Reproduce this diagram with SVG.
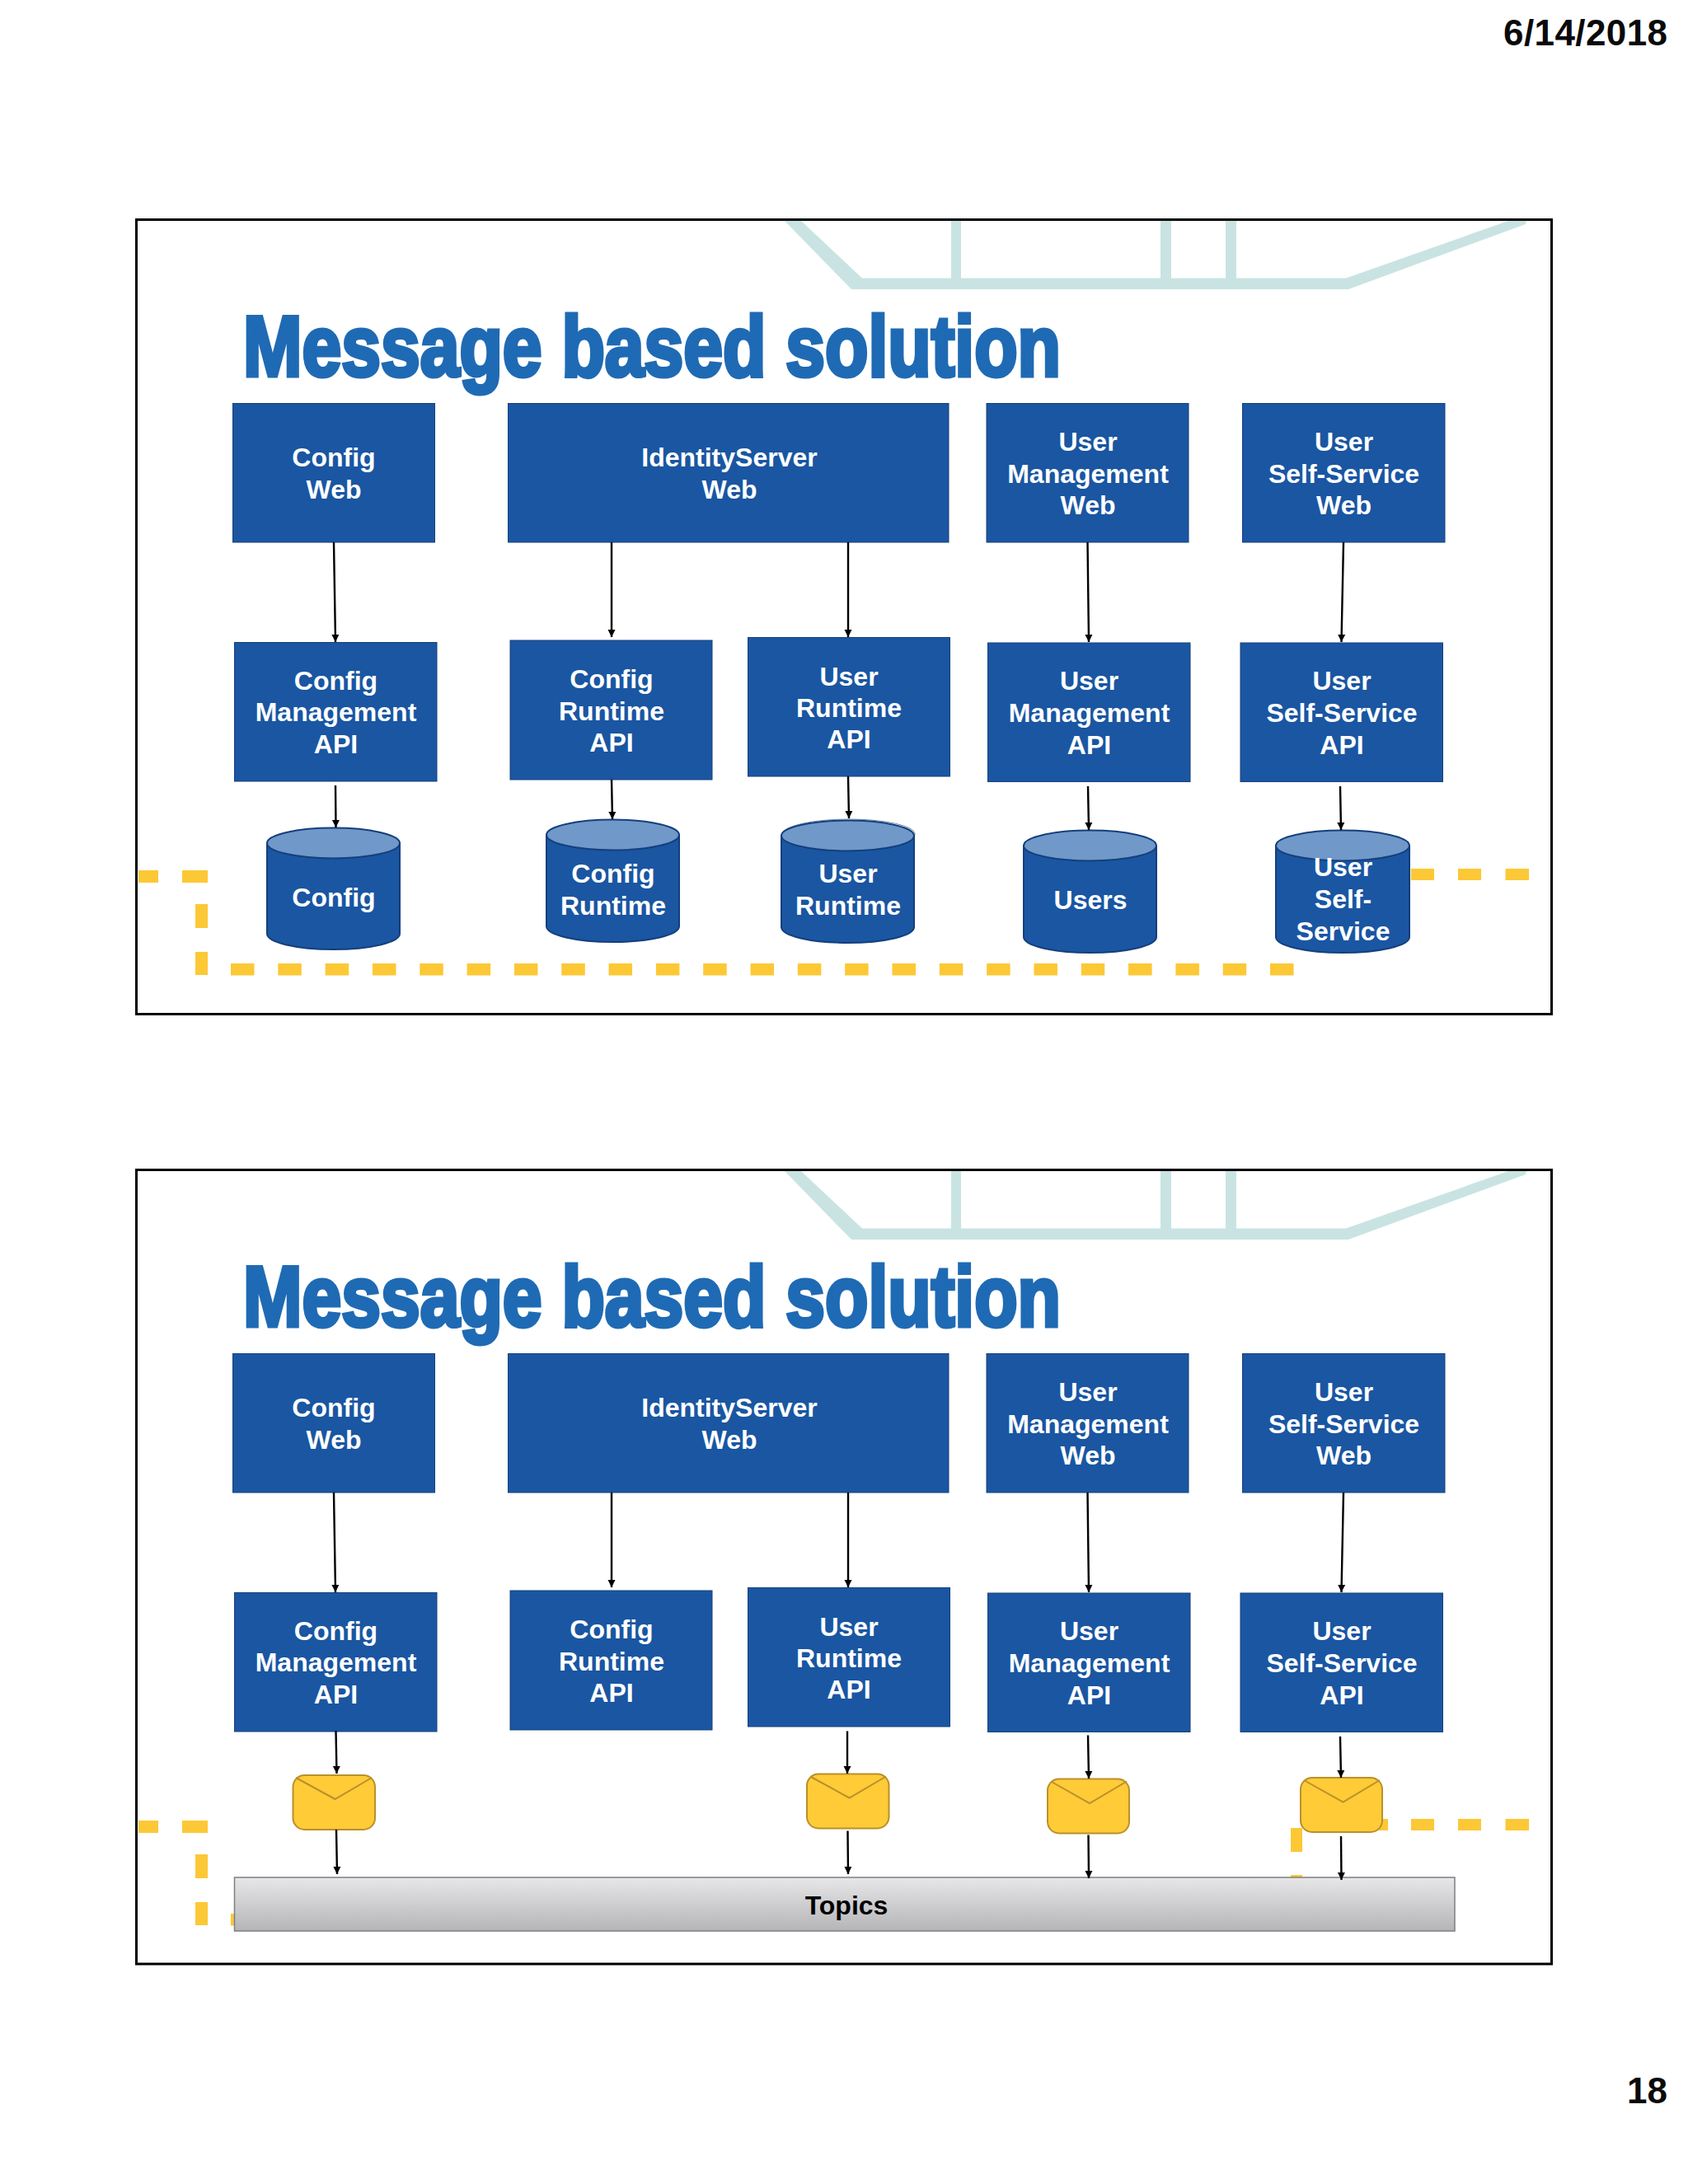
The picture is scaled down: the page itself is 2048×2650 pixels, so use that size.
<svg xmlns="http://www.w3.org/2000/svg" width="2048" height="2650" viewBox="0 0 2048 2650">
<style>
.frame{fill:none;stroke:#000;stroke-width:3}
.teal{fill:#c9e3e3}
.title{font:bold 104px "Liberation Sans",Arial,sans-serif;fill:#1f6ab4;stroke:#1f6ab4;stroke-width:5}
.box{fill:#1a56a2;stroke:#17407a;stroke-width:1}
.cyl{fill:#1a56a2;stroke:#143f7c;stroke-width:2}
.cyltop{fill:#7098c8;stroke:#143f7c;stroke-width:2}
.lbl{font:bold 32px "Liberation Sans",Arial,sans-serif;fill:#fff;text-anchor:middle}
.blk{font:bold 44px "Liberation Sans",Arial,sans-serif;fill:#0a0a0a}
.con{stroke:#000;stroke-width:2.4;fill:none;marker-end:url(#arr)}
.dash{fill:#fcc836}
.env{fill:#ffcb37;stroke:#b9902a;stroke-width:2}
.flap{fill:none;stroke:#b9902a;stroke-width:2}
</style>
<defs>
<marker id="arr" markerUnits="userSpaceOnUse" markerWidth="12" markerHeight="12" refX="9" refY="5" orient="auto">
<path d="M0 0.500L9 5L0 9.500Z" fill="#000"/>
</marker>
<linearGradient id="topicsFill" x1="0" y1="0" x2="0" y2="1">
<stop offset="0" stop-color="#e7e7e9"/><stop offset="0.4" stop-color="#d3d3d5"/><stop offset="1" stop-color="#b5b5b8"/>
</linearGradient>
<path id="tealShape" class="teal" d="M952 268H972L1046 337.500H1154V268H1166V337.500H1408V268H1421V337.500H1487V268H1500V337.500H1633L1830 268H1852L1851 272L1636 351H1033Z"/>
</defs>
<rect width="2048" height="2650" fill="#fff"/>
<text class="blk" x="2023" y="55" text-anchor="end" textLength="199" lengthAdjust="spacing">6/14/2018</text>
<text class="blk" x="2023" y="2552" text-anchor="end">18</text>

<g id="panel1">
<use href="#tealShape"/>
<rect class="frame" x="165.500" y="266.500" width="1717" height="964"/>
<text class="title" x="295" y="456" textLength="992" lengthAdjust="spacingAndGlyphs">Message based solution</text>
<g id="p1-dashes">
<path class="dash" d="M168 1056h24v15h-24zM221 1056h31v15h-31zM237 1097h15v29h-15zM237 1155h15v28h-15zM1712 1054h28v14h-28zM1769 1054h28v14h-28zM1826.500 1054h28.500v14h-28.500zM1655 1054h28v14h-28zM1566 1064h14v29h-14zM1566 1121h14v29h-14z"/>
<path d="M280 1176.300H1569.500" stroke="#fcc836" stroke-width="14.500" stroke-dasharray="28.500 28.820" fill="none"/>
</g>
<g id="p1-config-web"><rect class="box" x="282.500" y="489.500" width="245" height="168.500"/><text class="lbl" x="405" y="566">Config</text><text class="lbl" x="405" y="605">Web</text></g>
<g id="p1-identityserver-web"><rect class="box" x="616.500" y="489.500" width="534.500" height="168.500"/><text class="lbl" x="885" y="566">IdentityServer</text><text class="lbl" x="885" y="605">Web</text></g>
<g id="p1-user-management-web"><rect class="box" x="1197" y="489.500" width="245" height="168.500"/><text class="lbl" x="1320" y="547">User</text><text class="lbl" x="1320" y="586">Management</text><text class="lbl" x="1320" y="624">Web</text></g>
<g id="p1-user-selfservice-web"><rect class="box" x="1507.500" y="489.500" width="245.500" height="168.500"/><text class="lbl" x="1630.500" y="547">User</text><text class="lbl" x="1630.500" y="586">Self-Service</text><text class="lbl" x="1630.500" y="624">Web</text></g>
<g id="p1-config-management-api"><rect class="box" x="284.500" y="779.500" width="245.500" height="168.500"/><text class="lbl" x="407.500" y="837">Config</text><text class="lbl" x="407.500" y="875">Management</text><text class="lbl" x="407.500" y="914">API</text></g>
<g id="p1-config-runtime-api"><rect class="box" x="619" y="777" width="245" height="169"/><text class="lbl" x="742" y="835">Config</text><text class="lbl" x="742" y="874">Runtime</text><text class="lbl" x="742" y="912">API</text></g>
<g id="p1-user-runtime-api"><rect class="box" x="907.500" y="773.500" width="245" height="168.500"/><text class="lbl" x="1030" y="832">User</text><text class="lbl" x="1030" y="870">Runtime</text><text class="lbl" x="1030" y="908">API</text></g>
<g id="p1-user-management-api"><rect class="box" x="1198.500" y="780" width="245.500" height="168.500"/><text class="lbl" x="1321.500" y="837">User</text><text class="lbl" x="1321.500" y="876">Management</text><text class="lbl" x="1321.500" y="915">API</text></g>
<g id="p1-user-selfservice-api"><rect class="box" x="1505" y="780" width="245.500" height="168.500"/><text class="lbl" x="1628" y="837">User</text><text class="lbl" x="1628" y="876">Self-Service</text><text class="lbl" x="1628" y="915">API</text></g>

<g id="p1-config-db"><path class="cyl" d="M324 1023V1133A80.500 19 0 0 0 485 1133V1023Z"/><ellipse class="cyltop" cx="404.500" cy="1023" rx="80.500" ry="18.500"/><text class="lbl" x="405" y="1100">Config</text></g>
<g id="p1-config-runtime-db"><path class="cyl" d="M663 1013V1124A80.500 19 0 0 0 824 1124V1013Z"/><ellipse class="cyltop" cx="743.500" cy="1013" rx="80.500" ry="18.500"/><text class="lbl" x="744" y="1071">Config</text><text class="lbl" x="744" y="1110">Runtime</text></g>
<g id="p1-user-runtime-db"><ellipse cx="1030" cy="1012" rx="80" ry="18" fill="#fff" stroke="#6f88aa" stroke-width="1"/><path class="cyl" d="M948 1014V1125A80.500 19 0 0 0 1109 1125V1014Z"/><ellipse class="cyltop" cx="1028.500" cy="1014" rx="80.500" ry="18.500"/><text class="lbl" x="1029" y="1071">User</text><text class="lbl" x="1029" y="1110">Runtime</text></g>
<g id="p1-users-db"><path class="cyl" d="M1242 1026V1137A80.500 19 0 0 0 1403 1137V1026Z"/><ellipse class="cyltop" cx="1322.500" cy="1026" rx="80.500" ry="18.500"/><text class="lbl" x="1323" y="1103">Users</text></g>
<g id="p1-user-selfservice-db"><path class="cyl" d="M1548 1026V1137A81 19 0 0 0 1710 1137V1026Z"/><ellipse class="cyltop" cx="1629" cy="1026" rx="81" ry="18.500"/><text class="lbl" x="1629.500" y="1063">User</text><text class="lbl" x="1629.500" y="1102">Self-</text><text class="lbl" x="1629.500" y="1141">Service</text></g>

<g id="p1-connectors">
<path class="con" d="M405 658L407 779"/>
<path class="con" d="M742 658V773"/>
<path class="con" d="M1029 658V773"/>
<path class="con" d="M1319.500 658L1321 779"/>
<path class="con" d="M1630 658L1627.500 779"/>
<path class="con" d="M407 953L407.500 1004"/>
<path class="con" d="M742 946L743 994"/>
<path class="con" d="M1029 942L1030 993"/>
<path class="con" d="M1320 954L1321 1007"/>
<path class="con" d="M1626 954L1627 1007"/>
</g>
</g>

<g id="panel2">
<use href="#tealShape" y="1153"/>
<rect class="frame" x="165.500" y="1419.500" width="1717" height="963.500"/>
<text class="title" x="295" y="1609" textLength="992" lengthAdjust="spacingAndGlyphs">Message based solution</text>
<g id="p2-dashes">
<path class="dash" d="M168 2209h24v15h-24zM221 2209h31v15h-31zM237 2250h15v29h-15zM237 2308h15v28h-15zM1712 2207h28v14h-28zM1769 2207h28v14h-28zM1826.500 2207h28.500v14h-28.500zM1655 2207h29v14h-29zM1566 2218h14v29h-14zM1566 2275h14v4h-14zM280 2322h6v14.500h-6z"/>
</g>
<g id="p2-config-web"><rect class="box" x="282.500" y="1642.500" width="245" height="168.500"/><text class="lbl" x="405" y="1719">Config</text><text class="lbl" x="405" y="1758">Web</text></g>
<g id="p2-identityserver-web"><rect class="box" x="616.500" y="1642.500" width="534.500" height="168.500"/><text class="lbl" x="885" y="1719">IdentityServer</text><text class="lbl" x="885" y="1758">Web</text></g>
<g id="p2-user-management-web"><rect class="box" x="1197" y="1642.500" width="245" height="168.500"/><text class="lbl" x="1320" y="1700">User</text><text class="lbl" x="1320" y="1739">Management</text><text class="lbl" x="1320" y="1777">Web</text></g>
<g id="p2-user-selfservice-web"><rect class="box" x="1507.500" y="1642.500" width="245.500" height="168.500"/><text class="lbl" x="1630.500" y="1700">User</text><text class="lbl" x="1630.500" y="1739">Self-Service</text><text class="lbl" x="1630.500" y="1777">Web</text></g>
<g id="p2-config-management-api"><rect class="box" x="284.500" y="1932.500" width="245.500" height="168.500"/><text class="lbl" x="407.500" y="1990">Config</text><text class="lbl" x="407.500" y="2028">Management</text><text class="lbl" x="407.500" y="2067">API</text></g>
<g id="p2-config-runtime-api"><rect class="box" x="619" y="1930" width="245" height="169"/><text class="lbl" x="742" y="1988">Config</text><text class="lbl" x="742" y="2027">Runtime</text><text class="lbl" x="742" y="2065">API</text></g>
<g id="p2-user-runtime-api"><rect class="box" x="907.500" y="1926.500" width="245" height="168.500"/><text class="lbl" x="1030" y="1985">User</text><text class="lbl" x="1030" y="2023">Runtime</text><text class="lbl" x="1030" y="2061">API</text></g>
<g id="p2-user-management-api"><rect class="box" x="1198.500" y="1933" width="245.500" height="168.500"/><text class="lbl" x="1321.500" y="1990">User</text><text class="lbl" x="1321.500" y="2029">Management</text><text class="lbl" x="1321.500" y="2068">API</text></g>
<g id="p2-user-selfservice-api"><rect class="box" x="1505" y="1933" width="245.500" height="168.500"/><text class="lbl" x="1628" y="1990">User</text><text class="lbl" x="1628" y="2029">Self-Service</text><text class="lbl" x="1628" y="2068">API</text></g>

<g id="p2-envelope-1"><rect class="env" x="355.500" y="2154" width="99.500" height="66" rx="14"/><path class="flap" d="M359 2157L406.500 2183L451 2157"/></g>
<g id="p2-envelope-2"><rect class="env" x="979" y="2152.500" width="99.500" height="66" rx="14"/><path class="flap" d="M983 2155.500L1030.500 2181.500L1075 2155.500"/></g>
<g id="p2-envelope-3"><rect class="env" x="1271" y="2158.500" width="99" height="66" rx="14"/><path class="flap" d="M1275 2161.500L1322 2188L1367 2161.500"/></g>
<g id="p2-envelope-4"><rect class="env" x="1578" y="2157" width="99" height="66" rx="14"/><path class="flap" d="M1582 2160L1629.500 2186.500L1674 2160"/></g>

<g id="p2-topics"><rect x="284.500" y="2278" width="1480.500" height="65" fill="url(#topicsFill)" stroke="#7f7f7f" stroke-width="1.500"/><text x="1027" y="2323" font-family="'Liberation Sans',Arial,sans-serif" font-weight="bold" font-size="32" fill="#000" text-anchor="middle">Topics</text></g>

<g id="p2-connectors">
<path class="con" d="M405 1811L407 1932"/>
<path class="con" d="M742 1811V1926"/>
<path class="con" d="M1029 1811V1926"/>
<path class="con" d="M1319.500 1811L1321 1932"/>
<path class="con" d="M1630 1811L1627.500 1932"/>
<path class="con" d="M407.500 2100L408.500 2152"/>
<path class="con" d="M408 2220L409 2274"/>
<path class="con" d="M1028 2100.500V2152"/>
<path class="con" d="M1028.500 2221.500L1029 2274"/>
<path class="con" d="M1320 2105.500L1321 2158"/>
<path class="con" d="M1320.500 2226.500L1321 2279"/>
<path class="con" d="M1626 2107L1627 2157"/>
<path class="con" d="M1627 2228L1627.500 2281"/>
</g>
</g>
</svg>
